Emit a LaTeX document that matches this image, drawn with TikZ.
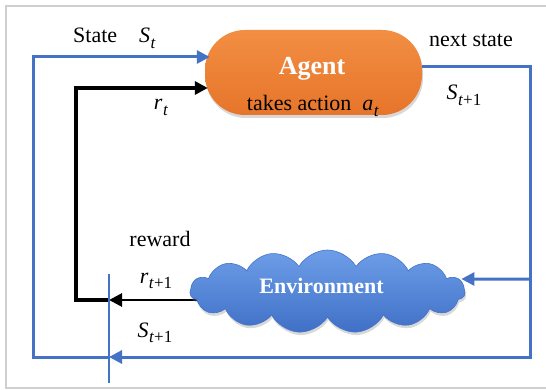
\documentclass[tikz,border=0pt]{standalone}
\usepackage{fontspec}
\setmainfont{Liberation Serif}
\usetikzlibrary{arrows.meta,shapes.symbols,shadows,calc}

\definecolor{flowblue}{HTML}{4472C4}
\definecolor{orangetop}{HTML}{F28E42}
\definecolor{orangebot}{HTML}{E6752B}
\definecolor{cloudtop}{HTML}{6E9EE8}
\definecolor{cloudbot}{HTML}{3F70C6}
\definecolor{cloudedge}{HTML}{4373C8}
\definecolor{framegray}{HTML}{CFCFCF}

% italic symbol with a lowered index
\newcommand{\symidx}[2]{\textit{#1}\kern0.5pt\raisebox{-0.24em}{\fontsize{17}{17}\selectfont #2}}

\begin{document}
\begin{tikzpicture}[x=1pt,y=-1pt,
  lbl/.style={anchor=base, inner sep=0pt, font=\fontsize{22}{26}\selectfont},
  blueflow/.style={draw=flowblue, line width=3pt},
  blackflow/.style={draw=black, line width=3pt},
  tip/.style={-{Triangle[length=13pt,width=13pt]}},
  agentbox/.style={rectangle, rounded corners=40pt, minimum width=217pt,
    minimum height=85pt, top color=orangetop, bottom color=orangebot,
    drop shadow={opacity=0.3, shadow xshift=1pt, shadow yshift=-3pt}},
  envcloud/.style={cloud, cloud puffs=15, cloud puff arc=120,
    cloud ignores aspect, minimum width=275pt, minimum height=83pt,
    top color=cloudtop, bottom color=cloudbot, draw=cloudedge,
    line width=0.6pt,
    drop shadow={opacity=0.3, shadow xshift=1pt, shadow yshift=-3pt}}]

% page and light frame
\useasboundingbox (0,0) rectangle (546,390);
\fill[white] (0,0) rectangle (546,390);
\draw[framegray, line width=2pt] (546,6) -- (6,6) -- (6,388) -- (546,388);

% junction points on the thin split line
\coordinate (jr) at (109,300);
\coordinate (jb) at (109,357);
\coordinate (splittop) at (109,274);
\coordinate (splitbot) at (109,383);
\coordinate (envout) at (203,300);

% reward leaving the environment (runs under the cloud)
\draw[blackflow, line width=2.8pt, tip] (envout) -- (jr);

% nodes
\node[agentbox] (agent) at (313.5,72.5) {};
\node[envcloud] (env) at (327.5,291.5) {};

\node[lbl, text=white, font=\fontsize{26}{30}\selectfont\bfseries] (agentname) at (312,75) {Agent};
\node[lbl] (agentact) at (313,111) {takes action\ \ \symidx{a}{\textit{t}}};
\node[lbl, text=white, font=\fontsize{22}{26}\selectfont\bfseries] (envname) at (321.5,293) {Environment};

% state loop
\coordinate (rtop) at (530,67);
\coordinate (rbranch) at (530,279);
\coordinate (rbot) at (530,357);
\coordinate (lbot) at (33,357);
\coordinate (ltop) at (33,57);
\draw[blueflow, tip] ($(agent.east)+(0,-5.5)$) -- (rtop) -- (rbot) -- (jb);
\draw[blueflow, tip] (jb) -- (lbot) -- (ltop) -- ($(agent.west)+(5,-15.5)$);
\draw[blueflow, tip] (rbranch) -- ($(env.east)+(-4,-12.5)$);

% reward loop
\coordinate (kbot) at (76,300);
\coordinate (ktop) at (76,88);
\draw[blackflow, line width=3.3pt, tip] (jr) -- (kbot) -- (ktop) -- ($(agent.west)+(3,15.5)$);

% thin split line
\draw[flowblue, line width=1.5pt] (splittop) -- (splitbot);

% labels
\node[lbl] (lstate) at (114.5,43) {State\quad\symidx{S}{\textit{t}}};
\node[lbl] (lrt) at (161,110) {\symidx{r}{\textit{t}}};
\node[lbl] (lnext) at (471,47) {next state};
\node[lbl] (lsnext) at (464,100) {\symidx{S}{\textit{t}+1}};
\node[lbl] (lreward) at (160,247) {reward};
\node[lbl] (lrnext) at (156,283) {\symidx{r}{\textit{t}+1}};
\node[lbl] (lsback) at (155,337) {\symidx{S}{\textit{t}+1}};
\end{tikzpicture}
\end{document}
